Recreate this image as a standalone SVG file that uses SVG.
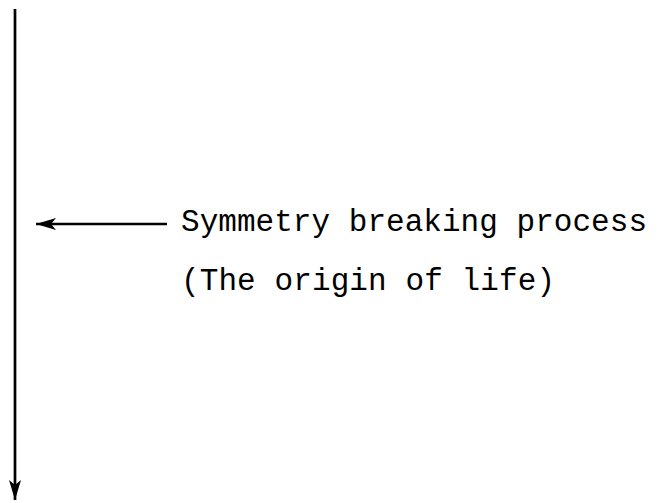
<svg xmlns="http://www.w3.org/2000/svg" width="662" height="503" viewBox="0 0 662 503">
<style>
.ln{stroke:#000;stroke-width:2.7;fill:none}
.lbl{font-family:"Liberation Mono","Courier New",monospace;font-size:31px;fill:#000}
</style>
<defs>
<marker id="ah" markerUnits="userSpaceOnUse" markerWidth="22" markerHeight="14" refX="20" refY="6" orient="auto">
<path d="M0,0 L20,6 L0,12 L5,6 Z" fill="#000"/>
</marker>
</defs>
<rect width="662" height="503" fill="#fff"/>
<g id="connectors">
<line class="ln" x1="15" y1="9" x2="15" y2="500" marker-end="url(#ah)"/>
<line class="ln" x1="167" y1="224" x2="36" y2="224" marker-end="url(#ah)"/>
</g>
<g id="label">
<text class="lbl" x="181" y="231" textLength="466" lengthAdjust="spacing">Symmetry breaking process</text>
<text class="lbl" x="181" y="290" textLength="374" lengthAdjust="spacing">(The origin of life)</text>
</g>
</svg>
